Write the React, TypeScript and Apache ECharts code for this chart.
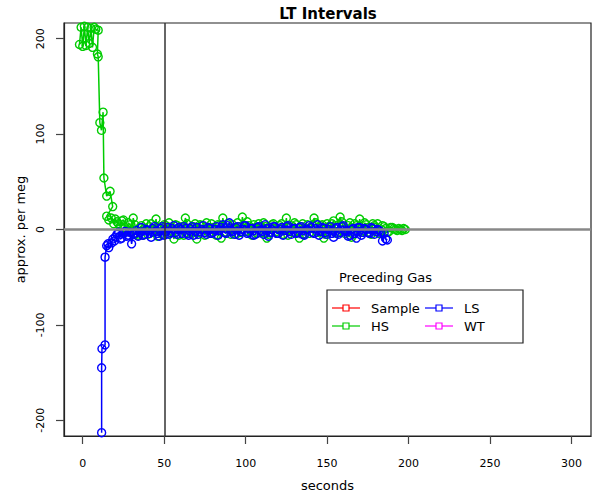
import React, { useEffect, useRef } from 'react';
import * as echarts from 'echarts';

const xTicks = [0, 50, 100, 150, 200, 250, 300];
const yTicks = [-200, -100, 0, 100, 200];

// HS (green): [seconds, approx. per meg]
const hsEarly: [number, number][] = [
  [-2, 194], [-1, 212], [0, 192], [1, 213], [2, 193], [3, 212], [4, 195], [5, 211], [6, 191],
  [7, 212], [8, 210], [9.5, 209], [9, 184], [9.5, 181], [10.5, 112], [11.5, 104], [12.5, 123],
  [13, 54], [14.7, 35], [16.8, 40], [18.4, 24], [14.7, 14], [16, 10], [17.5, 12], [19, 6],
];
const hsBand: [number, number][] = [
  [20, 11], [21, 8], [22, 6], [23, 3], [24, 9], [25, 10], [26, 2], [27, -1], [28, 7], [29, 5],
  [30, -3], [31, 12], [32, 5], [33, -4], [34, -6], [35, 2], [36, 4], [37, -6], [38, 1], [39, 6],
  [40, -5], [41, 3], [42, 6], [43, -3], [44, 0], [45, 11], [46, -7], [47, 1], [48, 3], [49, -5],
  [50, 5], [51, 4], [52, -4], [53, 7], [54, 2], [55, -2], [56, -10], [57, 5], [58, 4], [59, -6],
  [60, 1], [61, 3], [62, -6], [63, 12], [64, 6], [65, -4], [66, -2], [67, 2], [68, 3], [69, 6],
  [70, -10], [71, -3], [72, 5], [73, 4], [74, 0], [75, -6], [76, 7], [77, 2], [78, -4], [79, 6],
  [80, 2], [81, -1], [82, -6], [83, 5], [84, 4], [85, -9], [86, 12], [87, 3], [88, -3], [89, 6],
  [90, 1], [91, -5], [92, 5], [93, 2], [94, -5], [95, 7], [96, 3], [97, -3], [98, 13], [99, 4],
  [100, -2], [101, 8], [102, 4], [103, -1], [104, -6], [105, 5], [106, 2], [107, -4], [108, 6], [109, 3],
  [110, -3], [111, 7], [112, 3], [113, -9], [114, -5], [115, 2], [116, 5], [117, 6], [118, 1], [119, -2],
  [120, -4], [121, 4], [122, 6], [123, -5], [124, 0], [125, 12], [126, -6], [127, 2], [128, 4], [129, -3],
  [130, 7], [131, 5], [132, -2], [133, -9], [134, 3], [135, 6], [136, -5], [137, 1], [138, 5], [139, -4],
  [140, 1], [141, 4], [142, 12], [143, 7], [144, -3], [145, -2], [146, 4], [147, 5], [148, -9], [149, -5],
  [150, 6], [151, 3], [152, 2], [153, 6], [154, 9], [155, -3], [156, -4], [157, 5], [158, 13], [159, 8],
  [160, 3], [161, -4], [162, -2], [163, 4], [164, 7], [165, -8], [166, -5], [167, 6], [168, 4], [169, 1],
  [170, 11], [171, -3], [172, -1], [173, 7], [174, 5], [175, 2], [176, -3], [177, -5], [178, 6], [179, 4],
  [180, 2], [181, 6], [182, -4], [183, -2], [184, 4], [185, 3], [186, 1], [187, -3], [188, -2], [189, 2],
  [190, 2], [191, 1], [192, 0], [193, -1], [194, 1], [195, 0], [196, -1], [197, 1], [198, 0],
];

// LS (blue)
const lsEarly: [number, number][] = [
  [11.6, -213], [11.6, -145], [11.8, -125], [13.7, -121], [13.7, -29], [14.7, -17], [16, -19],
  [15.5, -15], [17.8, -14], [18.5, -10], [19.5, -12],
];
const lsBand: [number, number][] = [
  [20, -8], [21, -5], [22, -3], [23, -10], [24, -9], [25, -4], [26, -2], [27, -7], [28, -6], [29, -3],
  [30, -15], [31, -5], [32, -4], [33, -1], [34, -7], [35, -3], [36, 2], [37, -6], [38, -5], [39, 0],
  [40, -1], [41, -4], [42, -8], [43, 1], [44, 3], [45, -2], [46, -4], [47, -7], [48, 1], [49, 3],
  [50, -6], [51, -2], [52, 2], [53, -5], [54, -3], [55, 1], [56, 4], [57, -3], [58, -5], [59, 2],
  [60, 0], [61, -4], [62, 3], [63, 1], [64, -4], [65, -6], [66, 1], [67, 3], [68, -6], [69, -2],
  [70, 2], [71, -5], [72, -2], [73, 0], [74, 4], [75, -3], [76, -5], [77, 2], [78, 1], [79, -4],
  [80, -3], [81, 0], [82, 3], [83, -6], [84, -1], [85, 2], [86, 5], [87, -3], [88, -4], [89, 4],
  [90, 7], [91, -1], [92, -2], [93, -5], [94, 2], [95, 3], [96, -6], [97, -2], [98, 0], [99, 4],
  [100, 4], [101, -4], [102, -3], [103, 1], [104, 1], [105, -6], [106, -5], [107, 2], [108, 3], [109, -1],
  [110, -2], [111, -5], [112, 5], [113, 1], [114, -7], [115, -3], [116, 0], [117, 3], [118, 3], [119, -4],
  [120, -4], [121, 0], [122, 2], [123, -6], [124, -1], [125, 3], [126, 4], [127, -2], [128, -5], [129, 1],
  [130, 1], [131, -4], [132, -3], [133, 2], [134, 3], [135, -5], [136, -6], [137, 0], [138, 0], [139, 4],
  [140, 2], [141, -3], [142, -4], [143, 1], [144, 5], [145, -6], [146, -2], [147, 2], [148, 1], [149, -3],
  [150, -5], [151, 0], [152, 3], [153, -4], [154, -8], [155, 1], [156, 2], [157, -5], [158, -3], [159, 3],
  [160, 4], [161, -2], [162, -1], [163, -7], [164, -6], [165, 0], [166, 1], [167, -4], [168, -9], [169, 2],
  [170, 2], [171, -6], [172, -3], [173, 1], [174, 0], [175, -3], [176, -4], [177, 2], [178, 1], [179, -5],
  [180, -2], [181, 0], [182, -1], [183, -3], [184, -12], [185, -4], [186, -10], [187, -11],
];

const legendItems = [
  { name: 'Sample', color: '#ff0000', col: 0, row: 0 },
  { name: 'LS', color: '#0000ff', col: 1, row: 0 },
  { name: 'HS', color: '#00cc00', col: 0, row: 1 },
  { name: 'WT', color: '#ff00ff', col: 1, row: 1 },
];

const FONT = 'DejaVu Sans';

export default function App() {
  const ref = useRef<HTMLDivElement>(null);
  useEffect(() => {
    const chart = echarts.init(ref.current!, null, { renderer: 'svg' });
    const hsData = hsEarly.concat(hsBand);
    const lsData = lsEarly.concat(lsBand);

    const legendGraphics: any[] = [
      {
        type: 'text', left: 339, top: 271,
        style: { text: 'Preceding Gas', font: `13px "${FONT}"`, fill: '#000' },
      },
      {
        type: 'rect', shape: { x: 327, y: 290, width: 196, height: 53 },
        style: { fill: '#fff', stroke: '#222', lineWidth: 1.2 },
      },
    ];
    legendItems.forEach((it) => {
      const lx = it.col === 0 ? 332 : 425;
      const ty = it.row === 0 ? 308 : 326;
      legendGraphics.push(
        { type: 'line', shape: { x1: lx, y1: ty, x2: lx + 28, y2: ty }, style: { stroke: it.color, lineWidth: 1.2 } },
        { type: 'rect', shape: { x: lx + 11, y: ty - 3, width: 6, height: 6 }, style: { fill: '#fff', stroke: it.color, lineWidth: 1.2 } },
        { type: 'text', x: lx + 39, y: ty, style: { text: it.name, font: `13px "${FONT}"`, fill: '#000', verticalAlign: 'middle' } },
      );
    });

    chart.setOption({
      animation: false,
      backgroundColor: '#fff',
      grid: { left: 64, top: 23, right: 9, bottom: 57, show: true, borderColor: '#222', borderWidth: 1.2, backgroundColor: 'transparent' },
      xAxis: {
        type: 'value', min: -11.5, max: 312,
        splitLine: { show: false },
        axisLine: { show: true, onZero: false, lineStyle: { color: '#222', width: 1.2 } },
        axisTick: { show: true, length: 8, customValues: xTicks, lineStyle: { color: '#444', width: 1.2 } },
        axisLabel: { customValues: xTicks, margin: 22, fontSize: 11, fontFamily: FONT, color: '#000' },
        name: 'seconds', nameLocation: 'middle', nameGap: 43,
        nameTextStyle: { fontSize: 13, fontFamily: FONT, color: '#000' },
      },
      yAxis: {
        type: 'value', min: -216.5, max: 216.5,
        splitLine: { show: false },
        axisLine: { show: true, onZero: false, lineStyle: { color: '#222', width: 1.2 } },
        axisTick: { show: true, length: 8, customValues: yTicks, lineStyle: { color: '#444', width: 1.2 } },
        axisLabel: { customValues: yTicks, rotate: 90, margin: 18, fontSize: 11, fontFamily: FONT, color: '#000' },
        name: 'approx. per meg', nameLocation: 'middle', nameGap: 36, nameRotate: 90,
        nameTextStyle: { fontSize: 13, fontFamily: FONT, color: '#000' },
      },
      series: [
        {
          name: 'HS', type: 'line', data: hsData,
          symbol: 'circle', symbolSize: 8,
          lineStyle: { color: '#00cc00', width: 1.5 },
          itemStyle: { color: 'rgba(0,0,0,0)', borderColor: '#00cc00', borderWidth: 1.4 },
          markLine: {
            silent: true, symbol: 'none', label: { show: false },
            data: [{ yAxis: 0, lineStyle: { color: '#888', width: 2.5, type: 'solid' } }],
          },
          z: 2,
        },
        {
          name: 'LS', type: 'line', data: lsData,
          symbol: 'circle', symbolSize: 8,
          lineStyle: { color: '#0000ff', width: 1.5 },
          itemStyle: { color: 'rgba(0,0,0,0)', borderColor: '#0000ff', borderWidth: 1.4 },
          markLine: {
            silent: true, symbol: 'none', label: { show: false },
            data: [{ xAxis: 50.5, lineStyle: { color: '#333', width: 1.5, type: 'solid' } }],
          },
          z: 3,
        },
      ],
      graphic: [
        {
          type: 'text', x: 328, y: 14,
          style: { text: 'LT Intervals', font: `bold 15px "${FONT}"`, fill: '#000', align: 'center', verticalAlign: 'middle' },
        },
        ...legendGraphics,
      ],
    });
    return () => chart.dispose();
  }, []);
  return <div ref={ref} style={{ position: 'absolute', left: 0, top: 0, width: 600, height: 497 }} />;
}
